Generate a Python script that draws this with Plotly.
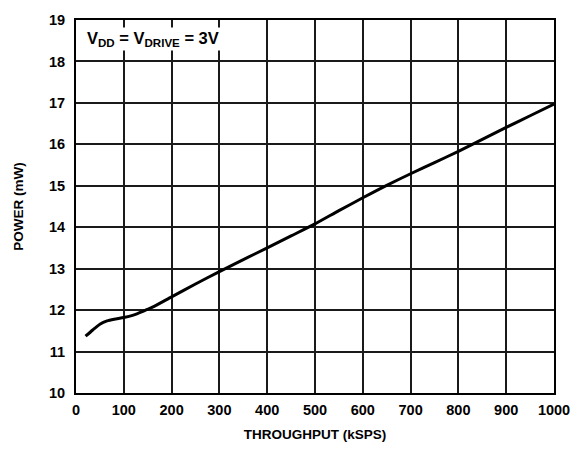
import plotly.graph_objects as go

# Power consumption vs. throughput rate
throughput_ksps = [20, 35, 50, 65, 80, 100, 120, 140, 160, 200, 250, 300, 350, 400,
                   450, 500, 550, 600, 650, 700, 750, 800, 850, 900, 950, 1000]
power_mw = [11.37, 11.52, 11.66, 11.74, 11.78, 11.82, 11.88, 11.97, 12.07, 12.32,
            12.63, 12.93, 13.22, 13.50, 13.79, 14.08, 14.40, 14.71, 15.01, 15.29,
            15.56, 15.83, 16.12, 16.41, 16.69, 16.97]

x_ticks = [0, 100, 200, 300, 400, 500, 600, 700, 800, 900, 1000]
y_ticks = [10, 11, 12, 13, 14, 15, 16, 17, 18, 19]

FONT = "Liberation Sans, Arial, sans-serif"

fig = go.Figure()
fig.add_trace(go.Scatter(
    x=throughput_ksps, y=power_mw, mode="lines",
    line=dict(color="black", width=3, shape="spline", smoothing=0.6),
    showlegend=False, hoverinfo="skip",
))

axis_common = dict(
    showgrid=True, gridcolor="#1a1a1a", gridwidth=1.5,
    showline=True, linecolor="black", linewidth=2, mirror=True,
    zeroline=False, ticks="",
    tickfont=dict(family=FONT, size=14.5, color="black", weight="bold"),
)

fig.update_xaxes(
    range=[0, 1000], tickvals=x_ticks, ticktext=[str(v) for v in x_ticks],
    ticklabelstandoff=3,
    title=dict(text="<b>THROUGHPUT (kSPS)</b>", standoff=12,
               font=dict(family=FONT, size=13.5, color="black")),
    **axis_common,
)
fig.update_yaxes(
    range=[10, 19], tickvals=y_ticks, ticktext=[str(v) for v in y_ticks],
    ticklabelstandoff=6,
    title=dict(text="<b>POWER (mW)</b>", standoff=22,
               font=dict(family=FONT, size=13.5, color="black")),
    **axis_common,
)

fig.add_annotation(
    text="<b>V<sub>DD</sub> = V<sub>DRIVE</sub> = 3V</b>",
    xref="x", yref="y", x=18, y=18.55, xanchor="left", yanchor="middle",
    showarrow=False, bgcolor="white",
    font=dict(family=FONT, size=16.5, color="black"),
)

fig.update_layout(
    width=585, height=452,
    margin=dict(l=76, r=31, t=12, b=58),
    paper_bgcolor="white", plot_bgcolor="white",
)

fig.write_html("out.html")
